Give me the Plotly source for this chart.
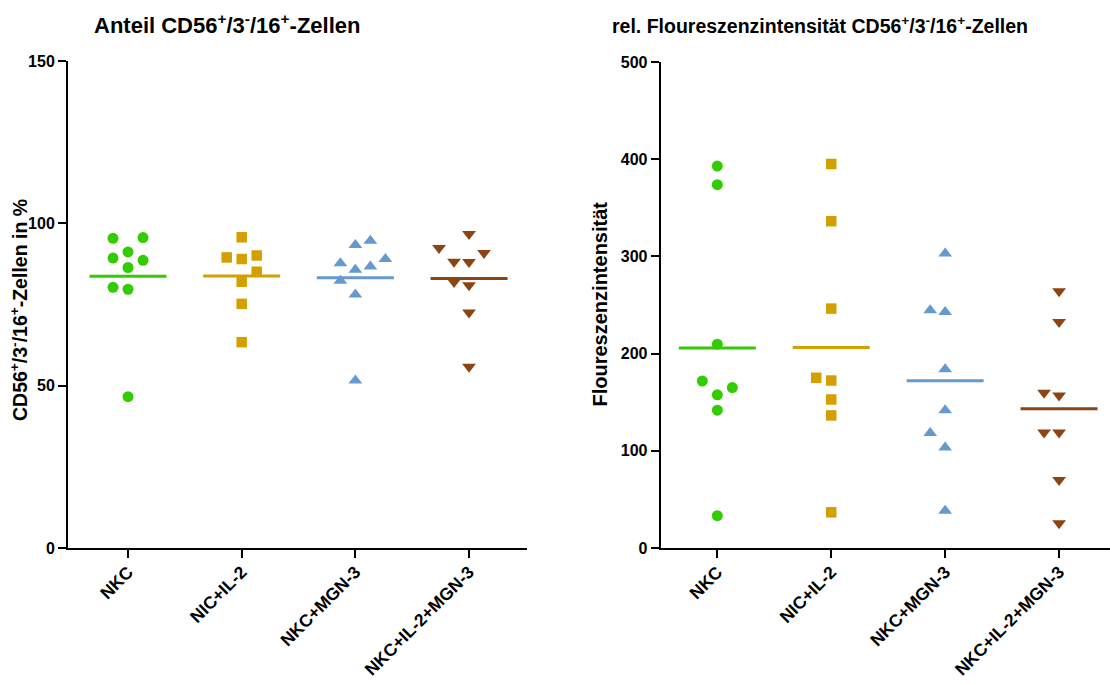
import numpy as np
import plotly.graph_objects as go

# ---------------- data ----------------
categories = ["NKC", "NIC+IL-2", "NKC+MGN-3", "NKC+IL-2+MGN-3"]

# Panel 1: Anteil CD56+/3-/16+-Zellen (%)
pct_nkc = [91.2, 95.4, 95.6, 86.4, 89.3, 88.6, 79.7, 80.3, 46.6]
pct_nic_il2 = [95.7, 89.0, 89.5, 90.1, 82.0, 85.1, 75.2, 63.4]
pct_nkc_mgn3 = [93.3, 94.6, 85.7, 86.7, 87.7, 89.0, 82.3, 78.1, 51.6]
pct_nkc_il2_mgn3 = [96.7, 88.1, 88.2, 90.9, 92.4, 80.9, 81.9, 72.5, 55.8]

# Panel 2: rel. Floureszenzintensität
mfi_nkc = [392.9, 373.8, 209.7, 157.6, 141.8, 171.8, 165.1, 33.2]
mfi_nic_il2 = [395.0, 336.1, 246.3, 172.3, 152.8, 136.4, 175.1, 36.7]
mfi_nkc_mgn3 = [302.9, 242.9, 244.6, 184.0, 141.8, 103.5, 118.2, 38.4]
mfi_nkc_il2_mgn3 = [264.1, 232.6, 156.9, 159.6, 118.9, 118.9, 69.9, 25.4]

y1_ticks = [0, 50, 100, 150]
y2_ticks = [0, 100, 200, 300, 400, 500]

# ---------------- style ----------------
W, H = 1110, 684
FONT = "Liberation Sans, Arial, Helvetica, sans-serif"
colors = ["#33CC00", "#D4A000", "#6699CC", "#8B4513"]
symbols = ["circle", "square", "triangle-up", "triangle-down"]
msizes = [11, 10.5, 12, 12]
dodge_side = {1: [-1, -1, 1, -1], 2: [-1, -1, -1, -1]}

# pixel geometry
L1_X0, L1_X1 = 68, 527
L2_X0, L2_X1 = 660.7, 1110
Y_BOT = 548
Y1_TOP, Y2_TOP = 61, 62
xr1 = [-0.528, 3.51]
xr2 = [-0.497, 3.447]
yr1 = [0, 150]
yr2 = [0, 500]

SLOT_PX = 15.0
THR_PX = 14.5
MEAN_HALF_PX = 38.5


def dodge(values, thr, side):
    order = [0, side, -side, 2 * side, -2 * side, 3 * side, -3 * side]
    placed, slots = [], []
    for v in values:
        chosen = order[-1]
        for s in order:
            if all(abs(v - pv) >= thr for pv, ps in placed if ps == s):
                chosen = s
                break
        placed.append((v, chosen))
        slots.append(chosen)
    return slots


fig = go.Figure()

panels = [
    (1, [pct_nkc, pct_nic_il2, pct_nkc_mgn3, pct_nkc_il2_mgn3], xr1, yr1,
     (L1_X0, L1_X1), Y1_TOP),
    (2, [mfi_nkc, mfi_nic_il2, mfi_nkc_mgn3, mfi_nkc_il2_mgn3], xr2, yr2,
     (L2_X0, L2_X1), Y2_TOP),
]

for pid, groups, xr, yr, (px0, px1), ytop in panels:
    px_per_cat = (px1 - px0) / (xr[1] - xr[0])
    px_per_unit = (Y_BOT - ytop) / (yr[1] - yr[0])
    slot_w = SLOT_PX / px_per_cat
    thr = THR_PX / px_per_unit
    half = MEAN_HALF_PX / px_per_cat
    xa = "x" if pid == 1 else "x2"
    ya = "y" if pid == 1 else "y2"
    for i, vals in enumerate(groups):
        slots = dodge(vals, thr, dodge_side[pid][i])
        xs = [i + s * slot_w for s in slots]
        fig.add_trace(go.Scatter(
            x=xs, y=vals, mode="markers", xaxis=xa, yaxis=ya,
            marker=dict(symbol=symbols[i], size=msizes[i], color=colors[i],
                        line=dict(width=0)),
            showlegend=False, hoverinfo="y"))
        m = float(np.mean(vals))
        fig.add_trace(go.Scatter(
            x=[i - half, i + half], y=[m, m], mode="lines", xaxis=xa, yaxis=ya,
            line=dict(color=colors[i], width=3), showlegend=False,
            hoverinfo="skip"))

axis_common = dict(showgrid=False, zeroline=False, showline=True,
                   linecolor="black", linewidth=2, ticks="outside",
                   ticklen=8, tickwidth=2, tickcolor="black",
                   automargin=False)

xtickfont = dict(family=FONT, size=17.5, color="black", weight="bold")
ytickfont = dict(family=FONT, size=16, color="black", weight="bold")

fig.update_layout(
    width=W, height=H,
    margin=dict(l=0, r=0, t=0, b=0, autoexpand=False),
    paper_bgcolor="white", plot_bgcolor="white",
    xaxis=dict(domain=[L1_X0 / W, L1_X1 / W], range=xr1, tickmode="array",
               tickvals=list(range(len(categories))), ticktext=categories,
               tickangle=-45, tickfont=xtickfont, anchor="y",
               ticklabelstandoff=-3, **axis_common),
    yaxis=dict(domain=[(H - Y_BOT) / H, (H - Y1_TOP) / H], range=yr1,
               tickmode="array", tickvals=y1_ticks, tickfont=ytickfont,
               anchor="x", **axis_common),
    xaxis2=dict(domain=[L2_X0 / W, L2_X1 / W], range=xr2, tickmode="array",
                tickvals=list(range(len(categories))), ticktext=categories,
                tickangle=-45, tickfont=xtickfont, anchor="y2",
                ticklabelstandoff=-3, **axis_common),
    yaxis2=dict(domain=[(H - Y_BOT) / H, (H - Y2_TOP) / H], range=yr2,
                tickmode="array", tickvals=y2_ticks, tickfont=ytickfont,
                anchor="x2", **axis_common),
)

sup_label = "CD56<sup>+</sup>/3<sup>-</sup>/16<sup>+</sup>-Zellen"

annotations = [
    dict(text="<b>Anteil " + sup_label + "</b>", x=227 / W, y=1 - 24 / H,
         size=22, angle=0),
    dict(text="<b>rel. Floureszenzintensität " + sup_label + "</b>",
         x=820 / W, y=1 - 25 / H, size=19.5, angle=0),
    dict(text="<b>" + sup_label + " in %</b>", x=19 / W, y=1 - 310 / H,
         size=19.5, angle=-90),
    dict(text="<b>Floureszenzintensität</b>", x=599 / W, y=1 - 304.5 / H,
         size=20, angle=-90),
]
for a in annotations:
    fig.add_annotation(text=a["text"], x=a["x"], y=a["y"], xref="paper",
                       yref="paper", xanchor="center", yanchor="middle",
                       showarrow=False, textangle=a["angle"],
                       font=dict(family=FONT, size=a["size"], color="black"))

fig.write_html("out.html")
